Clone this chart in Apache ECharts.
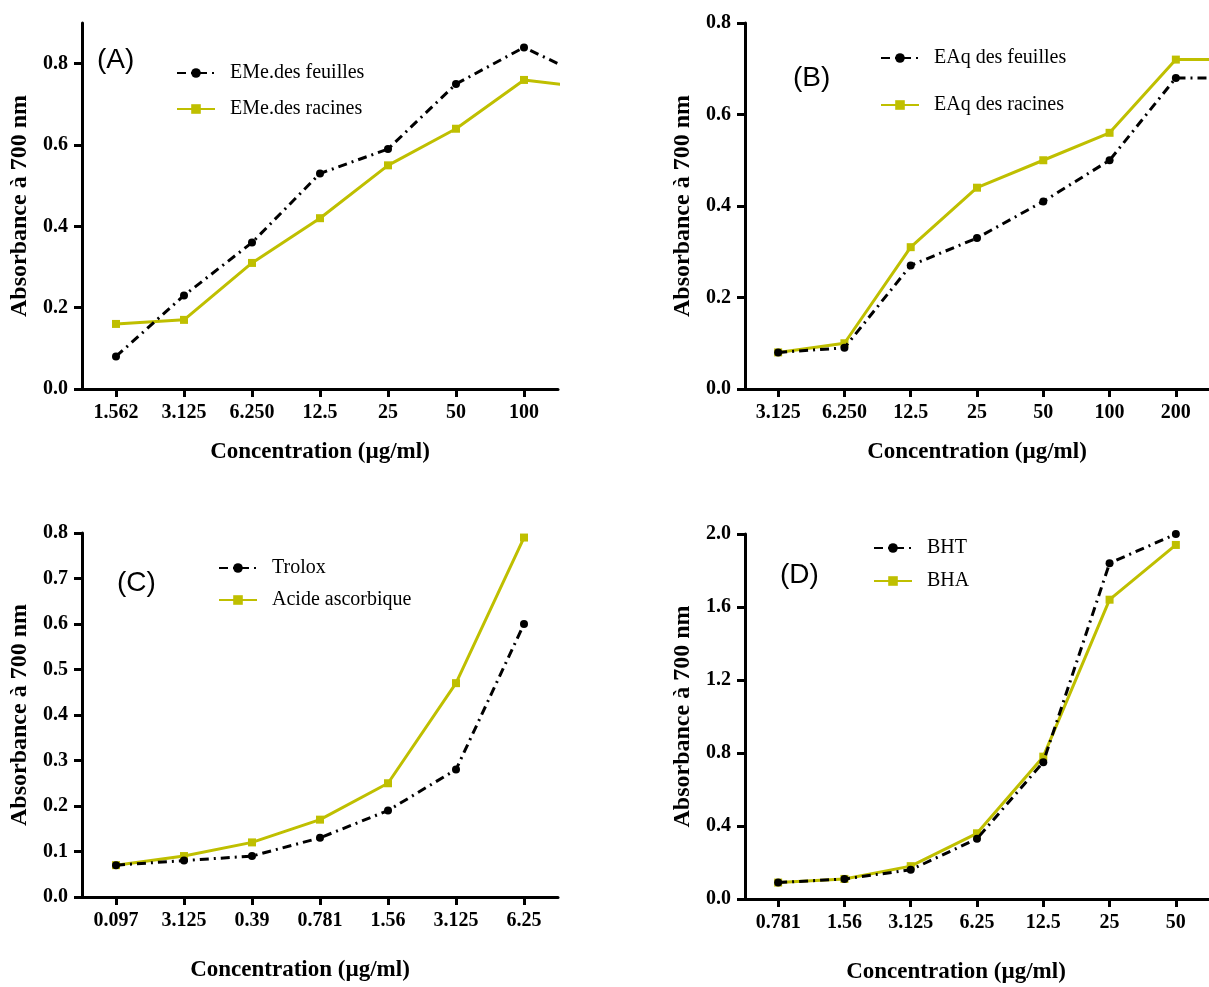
<!DOCTYPE html>
<html>
<head>
<meta charset="utf-8">
<script src="https://cdn.jsdelivr.net/npm/echarts@6/dist/echarts.min.js"></script>
<style>
  html, body { margin: 0; padding: 0; background: #fff; }
  #chart { width: 1209px; height: 987px; }
</style>
</head>
<body>
<div id="chart"></div>
<script>
  // concentrations (µg/ml) shown under each panel
  const catsA = ['1.562', '3.125', '6.250', '12.5', '25', '50', '100'];
  const catsB = ['3.125', '6.250', '12.5', '25', '50', '100', '200'];
  const catsC = ['0.097', '3.125', '0.39', '0.781', '1.56', '3.125', '6.25'];
  const catsD = ['0.781', '1.56', '3.125', '6.25', '12.5', '25', '50'];

  // absorbance values (last point of A and B runs off the right edge)
  const feuillesA = [0.08, 0.23, 0.36, 0.53, 0.59, 0.75, 0.84, 0.76];
  const racinesA = [0.16, 0.17, 0.31, 0.42, 0.55, 0.64, 0.76, 0.74];
  const feuillesB = [0.08, 0.09, 0.27, 0.33, 0.41, 0.50, 0.68, 0.68];
  const racinesB = [0.08, 0.10, 0.31, 0.44, 0.50, 0.56, 0.72, 0.72];
  const trolox = [0.07, 0.08, 0.09, 0.13, 0.19, 0.28, 0.60];
  const ascorbique = [0.07, 0.09, 0.12, 0.17, 0.25, 0.47, 0.79];
  const bht = [0.09, 0.11, 0.16, 0.33, 0.75, 1.84, 2.00];
  const bha = [0.09, 0.11, 0.18, 0.36, 0.78, 1.64, 1.94];

  const yTicksA = [0, 0.2, 0.4, 0.6, 0.8];
  const xIdx = [0, 1, 2, 3, 4, 5, 6];

  const BLACK = '#000';
  const YELLOW = '#BFBF00';
  const SERIF = '"Liberation Serif", "Times New Roman", serif';

  let chart = echarts.init(document.getElementById('chart'));

  function pts(arr) {
    return arr.map(function (v, i) { return [i, v]; });
  }

  function xAxis(gi, cats, pad) {
    return {
      type: 'value', gridIndex: gi, min: -0.5, max: 6.5,
      name: 'Concentration (µg/ml)', nameLocation: 'middle', nameGap: gi >= 2 ? 62 : 52,
      nameTextStyle: { fontFamily: SERIF, fontWeight: 'bold', fontSize: 23, color: BLACK, padding: pad },
      splitLine: { show: false },
      axisLine: { onZero: false, lineStyle: { color: BLACK, width: 3 } },
      axisTick: { customValues: xIdx, length: 8, lineStyle: { color: BLACK, width: 3 } },
      axisLabel: {
        customValues: xIdx, margin: 14,
        fontFamily: SERIF, fontWeight: 'bold', fontSize: 20, color: BLACK,
        formatter: function (v) { return cats[Math.round(v)]; }
      }
    };
  }

  function yAxis(gi, max, interval, custom) {
    let ax = {
      type: 'value', gridIndex: gi, min: 0, max: max,
      name: 'Absorbance à 700 nm', nameLocation: 'middle', nameGap: 50,
      nameTextStyle: { fontFamily: SERIF, fontWeight: 'bold', fontSize: 24, color: BLACK },
      splitLine: { show: false },
      axisLine: { show: true, onZero: false, lineStyle: { color: BLACK, width: 3 } },
      axisTick: { show: true, length: 8, lineStyle: { color: BLACK, width: 3 } },
      axisLabel: {
        margin: 14, fontFamily: SERIF, fontWeight: 'bold', fontSize: 20, color: BLACK,
        formatter: function (v) { return v.toFixed(1); }
      }
    };
    if (interval) ax.interval = interval;
    if (custom) {
      ax.axisTick.customValues = custom;
      ax.axisLabel.customValues = custom;
    }
    return ax;
  }

  function dotted(name, data, gi) {
    return {
      name: name, type: 'line', xAxisIndex: gi, yAxisIndex: gi, data: pts(data),
      symbol: 'circle', symbolSize: 8, showAllSymbol: true,
      itemStyle: { color: BLACK },
      lineStyle: { color: BLACK, width: 3, type: [9, 5, 2, 5] },
      z: 3
    };
  }

  function solid(name, data, gi) {
    return {
      name: name, type: 'line', xAxisIndex: gi, yAxisIndex: gi, data: pts(data),
      symbol: 'rect', symbolSize: 8, showAllSymbol: true,
      itemStyle: { color: YELLOW },
      lineStyle: { color: YELLOW, width: 3 },
      z: 2
    };
  }

  function legend(names, left, top, gap) {
    return {
      data: names, orient: 'vertical', left: left, top: top, itemGap: gap,
      itemWidth: 38, itemHeight: 12,
      textStyle: { fontFamily: SERIF, fontSize: 20, color: BLACK, padding: [0, 0, 0, 10] }
    };
  }

  function panelLabel(txt, left, top) {
    return {
      type: 'text', left: left, top: top,
      style: { text: txt, font: '28px "Liberation Sans", Arial, sans-serif', fill: BLACK }
    };
  }

  let option = {
    animation: false,
    backgroundColor: '#fff',
    grid: [
      { left: 82, top: 23, width: 476, height: 366 },
      { left: 745, top: 23, width: 476, height: 366 },
      { left: 82, top: 533, width: 476, height: 364 },
      { left: 745, top: 534, width: 476, height: 365 }
    ],
    xAxis: [
      xAxis(0, catsA),
      xAxis(1, catsB),
      xAxis(2, catsC, [0, 40, 0, 0]),
      xAxis(3, catsD, [0, 42, 0, 0])
    ],
    yAxis: [
      yAxis(0, 0.9, null, yTicksA),
      yAxis(1, 0.8, 0.2),
      yAxis(2, 0.8, 0.1),
      yAxis(3, 2.0, 0.4)
    ],
    legend: [
      legend(['EMe.des feuilles', 'EMe.des racines'], 171, 58, 16),
      legend(['EAq des feuilles', 'EAq des racines'], 875, 43, 27),
      legend(['Trolox', 'Acide ascorbique'], 213, 553, 12),
      legend(['BHT', 'BHA'], 868, 533, 13)
    ],
    graphic: [
      panelLabel('(A)', 97, 46),
      panelLabel('(B)', 793, 64),
      panelLabel('(C)', 117, 569),
      panelLabel('(D)', 780, 561)
    ],
    series: [
      dotted('EMe.des feuilles', feuillesA, 0),
      solid('EMe.des racines', racinesA, 0),
      dotted('EAq des feuilles', feuillesB, 1),
      solid('EAq des racines', racinesB, 1),
      dotted('Trolox', trolox, 2),
      solid('Acide ascorbique', ascorbique, 2),
      dotted('BHT', bht, 3),
      solid('BHA', bha, 3)
    ]
  };
  chart.setOption(option);
</script>
</body>
</html>
